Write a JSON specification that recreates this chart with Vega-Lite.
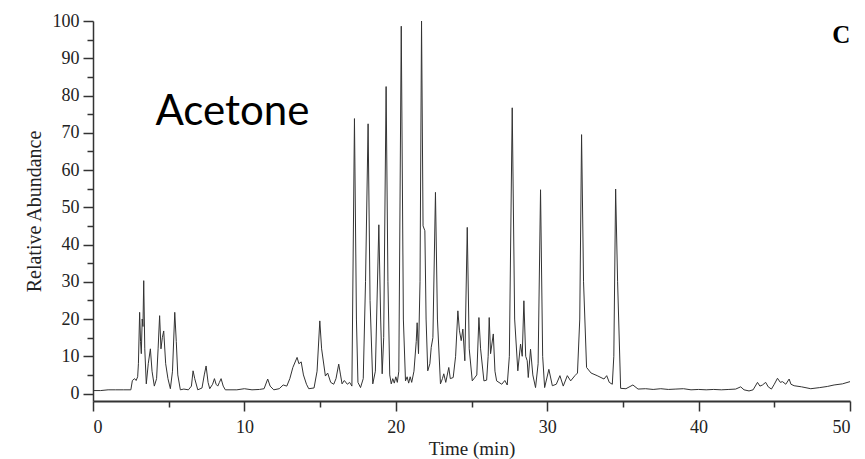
{
  "$schema": "https://vega.github.io/schema/vega-lite/v6.json",
  "autosize": "none",
  "width": 757,
  "height": 380,
  "padding": {"left": 93, "top": 21, "right": 15, "bottom": 58},
  "background": "white",
  "config": {"view": {"stroke": null}, "axis": {"grid": false, "labelFont": "Liberation Serif", "titleFont": "Liberation Serif", "labelColor": "#222", "titleColor": "#222", "domainColor": "#333", "tickColor": "#333", "titleFontWeight": "normal"}},
  "datasets": {
    "trace": [
      {"t":0,"v":0.8},{"t":0.5,"v":0.8},{"t":1.0,"v":1.0},{"t":1.5,"v":1.0},{"t":2.0,"v":1.0},{"t":2.5,"v":1.0},
      {"t":2.6,"v":3.5},{"t":2.75,"v":4.0},{"t":2.85,"v":3.5},{"t":2.95,"v":4.5},{"t":3.0,"v":8},{"t":3.08,"v":21.8},
      {"t":3.14,"v":14},{"t":3.19,"v":10.7},{"t":3.25,"v":20},{"t":3.3,"v":18},{"t":3.35,"v":30.3},{"t":3.42,"v":12},
      {"t":3.52,"v":2.6},{"t":3.65,"v":8},{"t":3.79,"v":12},{"t":3.9,"v":6},{"t":4.05,"v":2},{"t":4.2,"v":4},
      {"t":4.3,"v":12},{"t":4.4,"v":20.9},{"t":4.49,"v":12},{"t":4.58,"v":15},{"t":4.67,"v":16.8},{"t":4.8,"v":8},
      {"t":4.95,"v":4},{"t":5.11,"v":1.3},{"t":5.25,"v":6},{"t":5.4,"v":21.8},{"t":5.5,"v":14},{"t":5.6,"v":5},
      {"t":5.77,"v":1.0},{"t":6.0,"v":1.2},{"t":6.3,"v":1.0},{"t":6.5,"v":2},{"t":6.61,"v":6.1},{"t":6.72,"v":4},
      {"t":6.92,"v":1.0},{"t":7.2,"v":1.5},{"t":7.35,"v":5},{"t":7.47,"v":7.4},{"t":7.6,"v":3},{"t":7.71,"v":1.3},
      {"t":7.9,"v":2.5},{"t":8.02,"v":4},{"t":8.13,"v":2.5},{"t":8.24,"v":2},{"t":8.35,"v":3},{"t":8.46,"v":4},
      {"t":8.6,"v":2},{"t":8.74,"v":1.0},{"t":9.5,"v":1.0},{"t":10.0,"v":1.3},{"t":10.5,"v":1.0},{"t":11.0,"v":1.1},
      {"t":11.3,"v":1.3},{"t":11.54,"v":3.9},{"t":11.7,"v":2},{"t":11.94,"v":1.0},{"t":12.3,"v":1.3},{"t":12.56,"v":2.3},
      {"t":12.8,"v":2.0},{"t":13.0,"v":4},{"t":13.2,"v":7},{"t":13.48,"v":9.7},{"t":13.6,"v":8},{"t":13.75,"v":8.5},
      {"t":13.9,"v":5},{"t":14.1,"v":2.5},{"t":14.25,"v":1.3},{"t":14.6,"v":1.5},{"t":14.8,"v":6},{"t":14.98,"v":19.5},
      {"t":15.1,"v":12},{"t":15.35,"v":4.7},{"t":15.5,"v":5.5},{"t":15.7,"v":3},{"t":15.9,"v":2.5},{"t":16.05,"v":4},
      {"t":16.23,"v":7.9},{"t":16.35,"v":5},{"t":16.45,"v":2.6},{"t":16.6,"v":3.5},{"t":16.8,"v":2.5},{"t":16.95,"v":3},
      {"t":17.1,"v":2.0},{"t":17.27,"v":73.8},{"t":17.4,"v":20},{"t":17.5,"v":3},{"t":17.67,"v":1.6},{"t":17.85,"v":4},
      {"t":18.0,"v":30},{"t":18.17,"v":72.4},{"t":18.3,"v":25},{"t":18.48,"v":2.6},{"t":18.65,"v":6},{"t":18.88,"v":45.3},
      {"t":19.0,"v":20},{"t":19.1,"v":5.3},{"t":19.2,"v":15},{"t":19.36,"v":82.4},{"t":19.48,"v":30},{"t":19.6,"v":5},
      {"t":19.7,"v":2.6},{"t":19.8,"v":4},{"t":19.9,"v":2.8},{"t":20.0,"v":4.5},{"t":20.1,"v":3},{"t":20.2,"v":6},
      {"t":20.36,"v":98.6},{"t":20.5,"v":20},{"t":20.64,"v":3.4},{"t":20.75,"v":4.5},{"t":20.85,"v":2.8},{"t":20.95,"v":4.5},
      {"t":21.05,"v":3},{"t":21.2,"v":6},{"t":21.35,"v":14},{"t":21.41,"v":19},{"t":21.5,"v":10.7},{"t":21.6,"v":30},
      {"t":21.7,"v":100},{"t":21.8,"v":45},{"t":21.92,"v":43.7},{"t":22.0,"v":20},{"t":22.11,"v":6.1},{"t":22.25,"v":8},
      {"t":22.34,"v":12.4},{"t":22.45,"v":15},{"t":22.62,"v":54},{"t":22.75,"v":20},{"t":22.95,"v":2.6},{"t":23.08,"v":4},
      {"t":23.17,"v":5.3},{"t":23.3,"v":3},{"t":23.5,"v":7},{"t":23.6,"v":4},{"t":23.79,"v":4.3},{"t":23.95,"v":10},
      {"t":24.1,"v":22.2},{"t":24.2,"v":17},{"t":24.32,"v":14.2},{"t":24.43,"v":17.3},{"t":24.56,"v":8.8},{"t":24.72,"v":44.6},
      {"t":24.85,"v":12},{"t":25.05,"v":3.4},{"t":25.35,"v":5},{"t":25.49,"v":20.4},{"t":25.6,"v":12},{"t":25.82,"v":3.4},
      {"t":26.0,"v":3.6},{"t":26.1,"v":10},{"t":26.17,"v":20.4},{"t":26.26,"v":10.7},{"t":26.44,"v":16},{"t":26.55,"v":6},
      {"t":26.66,"v":3.4},{"t":27.0,"v":2.5},{"t":27.2,"v":3.5},{"t":27.36,"v":2.3},{"t":27.5,"v":10},{"t":27.69,"v":76.7},
      {"t":27.85,"v":20},{"t":28.06,"v":6.1},{"t":28.24,"v":13.3},{"t":28.35,"v":10},{"t":28.46,"v":24.9},{"t":28.58,"v":10},
      {"t":28.68,"v":8.8},{"t":28.75,"v":4.3},{"t":28.9,"v":11.9},{"t":29.05,"v":5},{"t":29.23,"v":1.6},{"t":29.4,"v":8},
      {"t":29.56,"v":54.7},{"t":29.7,"v":10},{"t":29.83,"v":1.6},{"t":30.11,"v":6.5},{"t":30.34,"v":2.1},{"t":30.6,"v":2.5},
      {"t":30.84,"v":4.8},{"t":31.06,"v":2.0},{"t":31.33,"v":4.8},{"t":31.55,"v":3.4},{"t":31.83,"v":4.8},{"t":32.0,"v":5.5},
      {"t":32.15,"v":20},{"t":32.27,"v":69.5},{"t":32.4,"v":30},{"t":32.6,"v":7},{"t":32.9,"v":5.5},{"t":33.3,"v":4.8},
      {"t":33.75,"v":3.9},{"t":33.93,"v":4.8},{"t":34.1,"v":3.0},{"t":34.3,"v":2.5},{"t":34.4,"v":10},{"t":34.52,"v":54.9},
      {"t":34.65,"v":30},{"t":34.85,"v":1.4},{"t":35.2,"v":1.3},{"t":35.66,"v":2.3},{"t":36.0,"v":1.2},{"t":36.5,"v":1.3},
      {"t":37.0,"v":1.1},{"t":37.5,"v":1.3},{"t":38.0,"v":1.1},{"t":38.5,"v":1.2},{"t":39.0,"v":1.3},{"t":39.5,"v":1.0},
      {"t":40.0,"v":1.1},{"t":40.5,"v":1.0},{"t":41.0,"v":1.1},{"t":41.5,"v":1.0},{"t":42.0,"v":1.1},{"t":42.45,"v":1.2},
      {"t":42.78,"v":1.8},{"t":43.0,"v":1.0},{"t":43.33,"v":0.7},{"t":43.6,"v":1.0},{"t":43.89,"v":3.0},{"t":44.05,"v":2.0},
      {"t":44.22,"v":2.3},{"t":44.43,"v":3.0},{"t":44.6,"v":1.8},{"t":44.81,"v":1.2},{"t":45.0,"v":2.5},{"t":45.21,"v":4.1},
      {"t":45.4,"v":3.0},{"t":45.54,"v":3.2},{"t":45.76,"v":2.5},{"t":45.98,"v":3.9},{"t":46.1,"v":2.5},{"t":46.31,"v":2.1},
      {"t":46.8,"v":1.8},{"t":47.41,"v":1.3},{"t":48.0,"v":1.6},{"t":48.5,"v":1.9},{"t":48.95,"v":2.3},{"t":49.5,"v":2.6},
      {"t":50.0,"v":3.2}
    ],
    "sample": [
      {"t": 4.12, "v": 72, "label": "Acetone"}
    ],
    "panel": [
      {"t": 49.43, "v": 94.1, "label": "C"}
    ]
  },
  "encoding": {
    "x": {"field": "t", "type": "quantitative", "scale": {"domain": [0, 50], "nice": false, "zero": false},
          "axis": {"orient": "bottom", "title": "Time (min)", "values": [0, 5, 10, 15, 20, 25, 30, 35, 40, 45, 50], "labelExpr": "datum.value % 10 === 0 ? datum.label : ''", "format": "d", "labelFont": "Liberation Serif", "labelFontSize": 18, "titleFont": "Liberation Serif", "titleFontSize": 19, "tickSize": {"condition": {"test": "datum.value % 10 === 0", "value": 10}, "value": 6}, "labelPadding": 7, "titlePadding": 3, "domainWidth": 2, "tickWidth": 1.5}},
    "y": {"field": "v", "type": "quantitative", "scale": {"domain": [-2, 100], "nice": false, "zero": false},
          "axis": {"orient": "left", "title": "Relative Abundance", "values": [0, 5, 10, 15, 20, 25, 30, 35, 40, 45, 50, 55, 60, 65, 70, 75, 80, 85, 90, 95, 100], "labelExpr": "datum.value % 10 === 0 ? datum.label : ''", "format": "d", "labelFont": "Liberation Serif", "labelFontSize": 18, "titleFont": "Liberation Serif", "titleFontSize": 20, "tickSize": {"condition": {"test": "datum.value % 10 === 0", "value": 10}, "value": 6}, "labelPadding": 4, "titlePadding": 8, "domainWidth": 1.5, "tickWidth": 1.5}}
  },
  "layer": [
    {
      "data": {"name": "trace"},
      "mark": {"type": "line", "color": "#333333", "strokeWidth": 1, "clip": true}
    },
    {
      "data": {"name": "sample"},
      "mark": {"type": "text", "baseline": "alphabetic", "align": "left", "font": "Lato", "fontSize": 42, "color": "black"},
      "encoding": {"text": {"field": "label"}}
    },
    {
      "data": {"name": "panel"},
      "mark": {"type": "text", "baseline": "alphabetic", "align": "center", "font": "Liberation Serif", "fontSize": 25, "fontWeight": "bold", "color": "black"},
      "encoding": {"text": {"field": "label"}}
    }
  ]
}
